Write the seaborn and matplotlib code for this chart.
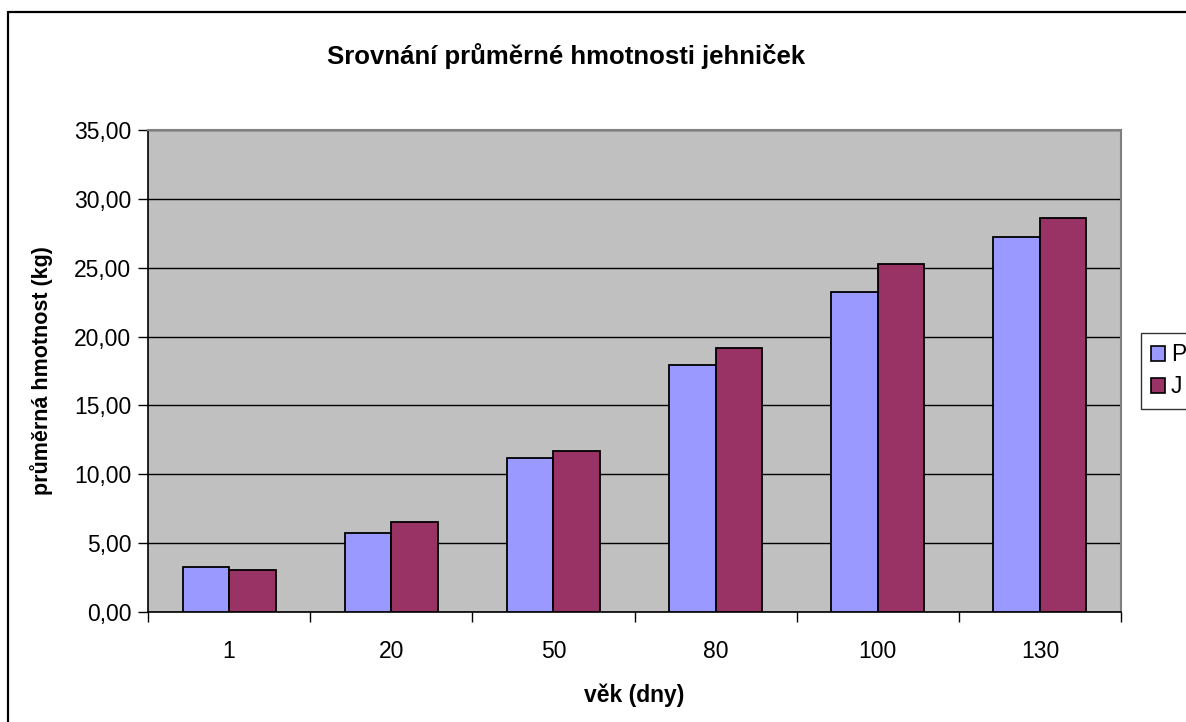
import numpy as np
import pandas as pd
import matplotlib
matplotlib.use("Agg")
import matplotlib.pyplot as plt
from matplotlib.lines import Line2D
from matplotlib.ticker import FuncFormatter, FixedLocator
import seaborn as sns

# data
ages = ["1", "20", "50", "80", "100", "130"]
weight_p = [3.30, 5.77, 11.20, 17.92, 23.21, 27.20]
weight_j = [3.07, 6.54, 11.71, 19.20, 25.26, 28.64]
series = ["P", "J"]
colors = ["#9999FF", "#993366"]

df = pd.DataFrame({
    "vek": ages * 2,
    "hmotnost": weight_p + weight_j,
    "skupina": ["P"] * len(ages) + ["J"] * len(ages),
})

sns.set_theme(style="white")
plt.rcParams["font.family"] = ["Liberation Sans", "DejaVu Sans"]
plt.rcParams["text.color"] = "black"
plt.rcParams["axes.labelcolor"] = "black"
plt.rcParams["xtick.color"] = "black"
plt.rcParams["ytick.color"] = "black"

W, H = 1186, 722
fig = plt.figure(figsize=(W / 100, H / 100), dpi=100)
fig.patch.set_facecolor("white")

# plot area in pixel coordinates
x0, x1, y0, y1 = 148, 1121, 130, 612
ax = fig.add_axes([x0 / W, 1 - y1 / H, (x1 - x0) / W, (y1 - y0) / H])
ax.set_facecolor("#C0C0C0")

sns.barplot(data=df, x="vek", y="hmotnost", hue="skupina", hue_order=series,
            palette=colors, width=0.574, edgecolor="black", linewidth=1.3,
            saturation=1, ax=ax, legend=False, zorder=3)

ax.set_ylim(0, 35)
ax.set_xlim(-0.5, len(ages) - 0.5)
ax.yaxis.set_major_locator(FixedLocator(np.arange(0, 36, 5)))
ax.yaxis.set_major_formatter(FuncFormatter(lambda v, p: f"{v:.2f}".replace(".", ",")))
ax.yaxis.grid(True, color="black", linewidth=1.0, zorder=0)
ax.set_axisbelow(True)

# category ticks sit between the groups
ax.set_xticks(range(len(ages)))
ax.set_xticklabels(ages)
ax.set_xticks(np.arange(-0.5, len(ages)), minor=True)
ax.tick_params(axis="x", which="major", length=0, pad=20, labelsize=16.5)
ax.tick_params(axis="x", which="minor", length=7, width=1, direction="out", bottom=True)
ax.tick_params(axis="y", length=7, width=1, direction="out", left=True,
               labelsize=16.5, pad=5)

for side in ["top", "right"]:
    ax.spines[side].set_color("#808080")
    ax.spines[side].set_linewidth(1.5)
for side in ["left", "bottom"]:
    ax.spines[side].set_color("black")
    ax.spines[side].set_linewidth(1.2)

ax.set_xlabel("věk (dny)", fontsize=16.5, fontweight="bold", labelpad=15)
ax.set_ylabel("průměrná hmotnost (kg)", fontsize=15.5, fontweight="bold", labelpad=15)

fig.text(566 / W, 1 - 56 / H, "Srovnání průměrné hmotnosti jehniček",
         ha="center", va="center", fontsize=18.5, fontweight="bold")

# chart area border (left and top visible)
fig.add_artist(Line2D([8 / W, 8 / W], [0, 1 - 12 / H], transform=fig.transFigure,
                      color="black", linewidth=1.6))
fig.add_artist(Line2D([8 / W, 1], [1 - 12 / H, 1 - 12 / H], transform=fig.transFigure,
                      color="black", linewidth=1.6))

handles = [plt.Rectangle((0, 0), 1, 1, facecolor=c, edgecolor="black", linewidth=1.2)
           for c in colors]
leg = fig.legend(handles, series, loc="upper left",
                 bbox_to_anchor=(1141 / W, 1 - 333 / H), fontsize=16.5,
                 frameon=True, fancybox=False, handlelength=0.6, handleheight=0.6,
                 handletextpad=0.25, labelspacing=0.4, borderpad=0.45, borderaxespad=0)
leg.get_frame().set_edgecolor("black")
leg.get_frame().set_linewidth(1.0)

fig.savefig("out.png", dpi=100)
